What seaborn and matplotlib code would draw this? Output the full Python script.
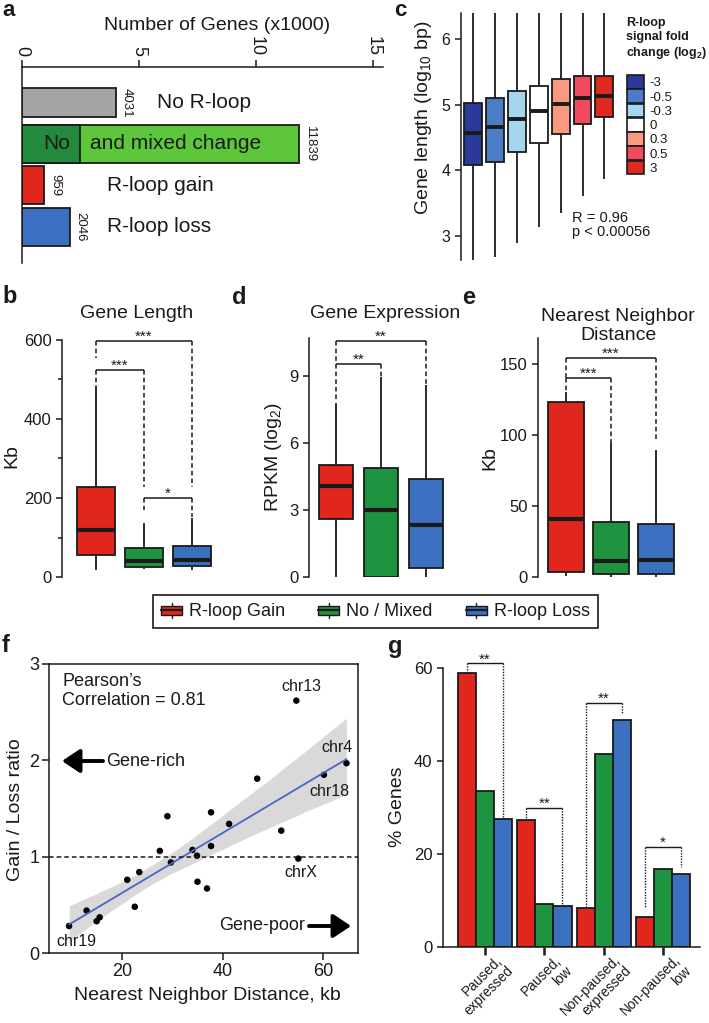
import numpy as np
import pandas as pd
import matplotlib
matplotlib.use("Agg")
import matplotlib.pyplot as plt
import matplotlib.transforms as mtransforms
import seaborn as sns
from matplotlib.patches import Patch, Rectangle
from matplotlib.lines import Line2D
from matplotlib.legend_handler import HandlerBase

# ------------------------------------------------------------------ data
# panel a  (numbers of genes, x1000)
a_categories = ["No R-loop", "No and mixed change", "R-loop gain", "R-loop loss"]
a_counts = [4.031, 11.839, 0.959, 2.046]
a_count_labels = ["4031", "11839", "959", "2046"]
a_no_change = 2.48
a_ticks = [0, 5, 10, 15]

# panel c  (gene length, log10 bp) per R-loop fold-change bin
c_bins = ["-3", "-0.5", "-0.3", "0", "0.3", "0.5", "3"]
c_low = [2.50, 2.68, 2.89, 3.14, 3.35, 3.60, 3.86]
c_q1 = [4.08, 4.13, 4.28, 4.42, 4.56, 4.70, 4.81]
c_med = [4.57, 4.66, 4.78, 4.90, 5.01, 5.10, 5.13]
c_q3 = [5.03, 5.10, 5.21, 5.28, 5.39, 5.44, 5.44]
c_high = [6.70, 6.70, 6.70, 6.70, 6.70, 6.70, 6.70]
c_colors = ["#2b3a9a", "#4b7dc6", "#a6d5ef", "#ffffff", "#f99a80", "#f04a5c", "#de2a22"]

# panels b, d, e
groups = ["R-loop Gain", "No / Mixed", "R-loop Loss"]
b_low = [18, 20, 18]
b_q1 = [56, 25, 28]
b_med = [119, 40, 43]
b_q3 = [228, 73, 78]
b_high = [480, 137, 150]

d_low = [0.0, 0.0, 0.0]
d_q1 = [2.6, 0.0, 0.4]
d_med = [4.07, 3.0, 2.33]
d_q3 = [5.0, 4.88, 4.39]
d_high = [7.8, 8.96, 8.6]

e_low = [0.5, 0.3, 0.3]
e_q1 = [3.5, 2.0, 2.0]
e_med = [41, 11, 12]
e_q3 = [123, 39, 37]
e_high = [130, 94, 89]

# significance brackets: (i, j, y, left end, right end, stars)
b_brackets = [(0, 2, 598, 555, 228, "***"), (0, 1, 524, 480, 228, "***"), (1, 2, 200, 170, 152, "*")]
d_brackets = [(0, 2, 10.57, 9.54, 8.6, "**"), (0, 1, 9.54, 7.84, 8.96, "**")]
e_brackets = [(0, 2, 154, 140, 96, "***"), (0, 1, 140, 130, 94, "***")]

# panel f
f_distance = [9.4, 12.9, 14.9, 15.5, 21.0, 22.5, 23.4, 27.5, 29.0, 29.7, 34.0, 34.9,
              35.0, 36.9, 37.7, 37.7, 41.3, 46.9, 51.7, 54.7, 55.1, 60.2, 64.7]
f_ratio = [0.28, 0.44, 0.33, 0.37, 0.76, 0.48, 0.84, 1.06, 1.42, 0.94, 1.07, 1.01,
           0.74, 0.67, 1.46, 1.11, 1.34, 1.81, 1.27, 2.62, 0.98, 1.85, 1.97]
f_named = {0: "chr19", 19: "chr13", 20: "chrX", 21: "chr18", 22: "chr4"}

# panel g
g_categories = ["Paused,\nexpressed", "Paused,\nlow", "Non-paused,\nexpressed", "Non-paused,\nlow"]
g_gain = [58.9, 27.3, 8.4, 6.4]
g_mixed = [33.5, 9.2, 41.5, 16.8]
g_loss = [27.5, 8.8, 48.8, 15.7]
g_brackets = [(0, 61.0, 58.9, 27.5, "**"), (1, 29.9, 27.3, 9.0, "**"),
              (2, 52.5, 8.4, 50.3, "**"), (3, 21.5, 8.6, 17.2, "*")]

# ------------------------------------------------------------------ style
RED, GREEN, BLUE = "#e1271d", "#1f9440", "#3b6fc0"
GRAY, LGREEN, DGREEN = "#a5a5a5", "#5ec63a", "#23893c"
EDGE = "#1a1a1a"

sns.set_theme(style="ticks")
plt.rcParams["font.family"] = ["Liberation Sans", "DejaVu Sans"]
plt.rcParams["mathtext.fontset"] = "custom"
plt.rcParams["mathtext.rm"] = "Liberation Sans"
plt.rcParams["mathtext.it"] = "Liberation Sans:italic"
plt.rcParams["mathtext.bf"] = "Liberation Sans:bold"
plt.rcParams["axes.linewidth"] = 1.1
plt.rcParams["axes.edgecolor"] = EDGE
plt.rcParams["xtick.major.width"] = 1.1
plt.rcParams["ytick.major.width"] = 1.1
plt.rcParams["xtick.major.size"] = 4
plt.rcParams["ytick.major.size"] = 4
plt.rcParams["xtick.color"] = EDGE
plt.rcParams["ytick.color"] = EDGE
plt.rcParams["text.color"] = EDGE
plt.rcParams["axes.labelcolor"] = EDGE

W, H = 709, 1023
fig = plt.figure(figsize=(W / 100, H / 100), dpi=100)


def add_ax(l, t, r, b):
    return fig.add_axes([l / W, 1 - b / H, (r - l) / W, (b - t) / H])


def ftext(x, y, s, **kw):
    return fig.text(x / W, 1 - y / H, s, **kw)


def box_df(cats, *cols):
    rows = []
    for k, c in enumerate(cats):
        for col in cols:
            rows.append((c, col[k]))
    return pd.DataFrame(rows, columns=["grp", "val"])


def bracket(ax, x1, x2, y, y1, y2, text, ls, lw=1.1, fs=11):
    ax.plot([x1, x2], [y, y], color=EDGE, lw=lw, solid_capstyle="butt", clip_on=False)
    ax.plot([x1, x1], [y, y1], color=EDGE, lw=lw, ls=ls, clip_on=False)
    ax.plot([x2, x2], [y, y2], color=EDGE, lw=lw, ls=ls, clip_on=False)
    ax.text((x1 + x2) / 2, y, text, ha="center", va="baseline", fontsize=fs)


# ------------------------------------------------------------------ panel a
axa = add_ax(22, 67, 383, 263)
sns.barplot(x=a_counts, y=a_categories, hue=a_categories, order=a_categories,
            hue_order=a_categories, palette=[GRAY, LGREEN, RED, BLUE], orient="h",
            width=0.915, saturation=1, edgecolor=EDGE, linewidth=1.3, legend=False,
            errorbar=None, ax=axa)
sns.barplot(x=[a_no_change], y=[a_categories[1]], order=a_categories, color=DGREEN,
            orient="h", width=0.915, saturation=1, edgecolor=EDGE, linewidth=1.3,
            errorbar=None, ax=axa)
p0 = axa.patches[0]
cy = p0.get_y() + p0.get_height() / 2
p0.set_height(0.70)
p0.set_y(cy - 0.35)
axa.set_ylim(3.87, -0.855)
axa.set_xlim(0, 15.43)
axa.xaxis.set_ticks_position("top")
axa.set_xticks(a_ticks)
axa.set_xticklabels([str(t) for t in a_ticks], rotation=-90, fontsize=13)
axa.tick_params(axis="x", top=True, bottom=False, length=5, pad=3)
axa.set_yticks([])
axa.set_xlabel("")
axa.set_ylabel("")
axa.spines["right"].set_visible(False)
axa.spines["bottom"].set_visible(False)
axa.spines["top"].set_visible(True)
for i, (v, lab) in enumerate(zip(a_counts, a_count_labels)):
    axa.text(v + 0.2, i, lab, rotation=-90, ha="left", va="center", fontsize=9.5)
axa.text(5.77, 0, "No R-loop", va="center", fontsize=15)
axa.text(1.48, 1, "No", va="center", ha="center", fontsize=15)
axa.text(2.9, 1, "and mixed change", va="center", fontsize=15)
axa.text(3.63, 2, "R-loop gain", va="center", fontsize=15)
axa.text(3.63, 3, "R-loop loss", va="center", fontsize=15)
ftext(217, 25, "Number of Genes (x1000)", ha="center", va="center", fontsize=14)

# ------------------------------------------------------------------ panel c
axc = add_ax(461, 13, 616, 260)
dfc = box_df(c_bins, c_low, c_q1, c_med, c_q3, c_high)
sns.boxplot(data=dfc, x="grp", y="val", hue="grp", order=c_bins, hue_order=c_bins,
            palette=c_colors, saturation=1, whis=(0, 100), width=0.82, showcaps=False,
            linecolor=EDGE, linewidth=1.3, medianprops={"linewidth": 2.8},
            legend=False, ax=axc)
axc.set_ylim(2.63, 6.40)
axc.set_xlim(-0.55, 6.53)
axc.set_yticks([3, 4, 5, 6])
axc.set_yticklabels(["3", "4", "5", "6"], fontsize=11.5)
axc.set_xticks([])
axc.set_xlabel("")
axc.set_ylabel("")
for s in ["top", "right", "bottom"]:
    axc.spines[s].set_visible(False)
ftext(423, 118, r"Gene length (log$_\mathregular{10}$ bp)", rotation=90, ha="center",
      va="center", fontsize=14)
ftext(626, 39, "R-loop\nsignal fold\nchange (log$_\\mathbf{2}$)", ha="left", va="center",
      fontsize=9, fontweight="bold", linespacing=1.2)
axc.legend(handles=[Patch(facecolor=c, edgecolor=EDGE, lw=1.2) for c in c_colors],
           labels=c_bins, loc="upper left", bbox_to_anchor=(627 / W, 1 - 75 / H),
           bbox_transform=fig.transFigure, frameon=False, handlelength=1.3,
           handleheight=1.22, labelspacing=0, handletextpad=0.4, borderpad=0,
           borderaxespad=0, fontsize=9.5)
ftext(572, 225, "R = 0.96\np < 0.00056", ha="left", va="center", fontsize=10.5,
      linespacing=1.05)

# ------------------------------------------------------------------ panels b, d, e
PAL3 = [RED, GREEN, BLUE]


def group_box(ax, low, q1, med, q3, high, width):
    df = box_df(groups, low, q1, med, q3, high)
    sns.boxplot(data=df, x="grp", y="val", hue="grp", order=groups, hue_order=groups,
                palette=PAL3, saturation=1, whis=(0, 100), width=width, showcaps=False,
                linecolor=EDGE, linewidth=1.3, medianprops={"linewidth": 3},
                legend=False, ax=ax)
    ax.set_xticks([])
    ax.set_xlabel("")
    ax.set_ylabel("")
    for s in ["top", "right", "bottom"]:
        ax.spines[s].set_visible(False)


DASH = (0, (3, 2))

axb = add_ax(62, 340, 212, 577)
group_box(axb, b_low, b_q1, b_med, b_q3, b_high, 0.79)
axb.set_xlim(-0.71, 2.42)
axb.set_ylim(0, 600)
axb.set_yticks([0, 200, 400, 600])
axb.set_yticks([100, 300, 500], minor=True)
axb.tick_params(axis="y", which="minor", length=3, width=1.1, left=True)
axb.set_yticklabels(["0", "200", "400", "600"], fontsize=12)
for i, j, y, y1, y2, t in b_brackets:
    bracket(axb, i, j, y, y1, y2, t, DASH)
ftext(137, 313, "Gene Length", ha="center", va="center", fontsize=14)
ftext(12, 456, "Kb", rotation=90, ha="center", va="center", fontsize=14)

axd = add_ax(309, 338, 461, 577)
group_box(axd, d_low, d_q1, d_med, d_q3, d_high, 0.75)
axd.set_xlim(-0.6, 2.78)
axd.set_ylim(0, 10.7)
axd.set_yticks([0, 3, 6, 9])
axd.set_yticklabels(["0", "3", "6", "9"], fontsize=12)
for i, j, y, y1, y2, t in d_brackets:
    bracket(axd, i, j, y, y1, y2, t, DASH)
ftext(385, 313, "Gene Expression", ha="center", va="center", fontsize=14)
ftext(273, 457, r"RPKM (log$_\mathregular{2}$)", rotation=90, ha="center", va="center",
      fontsize=14)

axe = add_ax(538, 338, 696, 577)
group_box(axe, e_low, e_q1, e_med, e_q3, e_high, 0.8)
axe.set_xlim(-0.62, 2.89)
axe.set_ylim(0, 168)
axe.set_yticks([0, 50, 100, 150])
axe.set_yticklabels(["0", "50", "100", "150"], fontsize=12)
for i, j, y, y1, y2, t in e_brackets:
    bracket(axe, i, j, y, y1, y2, t, DASH)
ftext(618, 326, "Nearest Neighbor\nDistance", ha="center", va="center", fontsize=14,
      linespacing=1.12)
ftext(490, 458, "Kb", rotation=90, ha="center", va="center", fontsize=14)


# ------------------------------------------------------------------ shared legend
class BoxIcon(HandlerBase):
    def create_artists(self, legend, orig_handle, xdescent, ydescent, width, height,
                       fontsize, trans):
        x0, y0 = -xdescent, -ydescent
        fc = orig_handle.get_facecolor()
        rect = Rectangle((x0, y0 + 0.2 * height), width, 0.6 * height, facecolor=fc,
                         edgecolor=EDGE, lw=1.0, transform=trans)
        med = Line2D([x0, x0 + width], [y0 + height / 2] * 2, color=EDGE, lw=1.6,
                     transform=trans)
        wlo = Line2D([x0 + width / 2] * 2, [y0, y0 + 0.2 * height], color=EDGE, lw=1.0,
                     transform=trans)
        whi = Line2D([x0 + width / 2] * 2, [y0 + 0.8 * height, y0 + height], color=EDGE,
                     lw=1.0, transform=trans)
        return [rect, med, wlo, whi]


leg = fig.legend(handles=[Patch(facecolor=c) for c in PAL3], labels=groups,
                 handler_map={Patch: BoxIcon()}, loc="center",
                 bbox_to_anchor=(153 / W, 1 - 631 / H, 445 / W, 39 / H), mode="expand",
                 ncol=3, fontsize=13, frameon=True, fancybox=False, edgecolor=EDGE,
                 framealpha=1, handlelength=1.15, handleheight=0.9, handletextpad=0.4,
                 borderpad=0.45, borderaxespad=0)
leg.get_frame().set_linewidth(1.2)

# ------------------------------------------------------------------ panel f
axf = add_ax(49, 664, 358, 953)
sns.regplot(x=f_distance, y=f_ratio, scatter=False, color="black",
            line_kws={"alpha": 0}, ci=95, n_boot=1000, seed=3, ax=axf)
sns.regplot(x=f_distance, y=f_ratio, scatter=False, ci=None, color="#4a66c4",
            line_kws={"lw": 1.3}, ax=axf)
sns.scatterplot(x=f_distance, y=f_ratio, color="black", s=22, edgecolor="none", ax=axf)
axf.axhline(1, color=EDGE, lw=1.1, ls=(0, (3, 2)))
axf.set_xlim(5.4, 67)
axf.set_ylim(0, 3)
axf.set_xticks([20, 40, 60])
axf.set_xticklabels(["20", "40", "60"], fontsize=13)
axf.set_yticks([0, 1, 2, 3])
axf.set_yticklabels(["0", "1", "2", "3"], fontsize=13)
axf.tick_params(length=5, pad=2)
for s in axf.spines.values():
    s.set_visible(True)
offsets = {"chr19": (5, -11), "chr13": (4, 10), "chrX": (1.5, -10), "chr18": (4, -12),
           "chr4": (-7, 11)}
for idx, name in f_named.items():
    axf.annotate(name, (f_distance[idx], f_ratio[idx]), xytext=offsets[name],
                 textcoords="offset points", ha="center", va="center", fontsize=11.5)
ftext(62, 691, "Pearson\u2019s\nCorrelation = 0.81", ha="left", va="center",
      fontsize=13, linespacing=1.15)
ARROW = dict(arrowstyle="-|>,head_length=0.45,head_width=0.3", lw=2.8,
             mutation_scale=24, color="black", shrinkA=0, shrinkB=0)
axf.annotate("", xy=(62 / W, 1 - 761 / H), xytext=(103 / W, 1 - 761 / H),
             xycoords="figure fraction", textcoords="figure fraction", arrowprops=ARROW)
ftext(106, 761, "Gene-rich", ha="left", va="center", fontsize=13)
axf.annotate("", xy=(351 / W, 1 - 926 / H), xytext=(309 / W, 1 - 926 / H),
             xycoords="figure fraction", textcoords="figure fraction", arrowprops=ARROW)
ftext(305, 926, "Gene-poor", ha="right", va="center", fontsize=13)
ftext(207, 995, "Nearest Neighbor Distance, kb", ha="center", va="center", fontsize=14)
ftext(16, 810, "Gain / Loss ratio", rotation=90, ha="center", va="center", fontsize=14)

# ------------------------------------------------------------------ panel g
axg = add_ax(443, 668, 700, 947)
dfg = pd.DataFrame({
    "cat": g_categories * 3,
    "grp": [groups[0]] * 4 + [groups[1]] * 4 + [groups[2]] * 4,
    "pct": g_gain + g_mixed + g_loss,
})
GW = 0.91
sns.barplot(data=dfg, x="cat", y="pct", hue="grp", order=g_categories, hue_order=groups,
            palette=PAL3, saturation=1, width=GW, edgecolor=EDGE, linewidth=1.3,
            errorbar=None, legend=False, ax=axg)
axg.set_xlim(-0.71, 3.62)
axg.set_ylim(0, 60)
axg.set_yticks([0, 20, 40, 60])
axg.set_yticklabels(["0", "20", "40", "60"], fontsize=12)
axg.set_xticks(range(4))
axg.set_xticklabels([""] * 4)
axg.tick_params(axis="x", length=6, width=1.8, pad=1)
axg.set_xlabel("")
axg.set_ylabel("")
for s in ["top", "right"]:
    axg.spines[s].set_visible(False)
# rotated two-line category labels, each line right-aligned at its own anchor
base = axg.get_xaxis_transform()
LH = 15.0  # line step in pixels
for k, cat in enumerate(g_categories):
    for j, line in enumerate(cat.split("\n")):
        dx = (10 + 0.707 * LH * j) / 100
        dy = -(6 + 0.707 * LH * j) / 100
        tr = base + mtransforms.ScaledTranslation(dx, dy, fig.dpi_scale_trans)
        axg.text(k, 0, line, transform=tr, rotation=45, rotation_mode="anchor",
                 ha="right", va="top", fontsize=9.8)
off = GW / 3
for k, y, y1, y2, t in g_brackets:
    bracket(axg, k - off, k + off, y, y1, y2, t, (0, (1, 1)), lw=1.0)
ftext(397, 807, "% Genes", rotation=90, ha="center", va="center", fontsize=14)

# ------------------------------------------------------------------ panel letters
ftext(2, 0.5, "a", fontsize=16, fontweight="bold", ha="left", va="top")
ftext(394, 0.5, "c", fontsize=16, fontweight="bold", ha="left", va="top")
for lab, x, y in [("b", 2, 303), ("d", 232, 304), ("e", 462, 304), ("f", 2, 652),
                  ("g", 388, 653)]:
    ftext(x, y, lab, fontsize=17, fontweight="bold", ha="left", va="baseline")

fig.savefig("out.png", dpi=100)
